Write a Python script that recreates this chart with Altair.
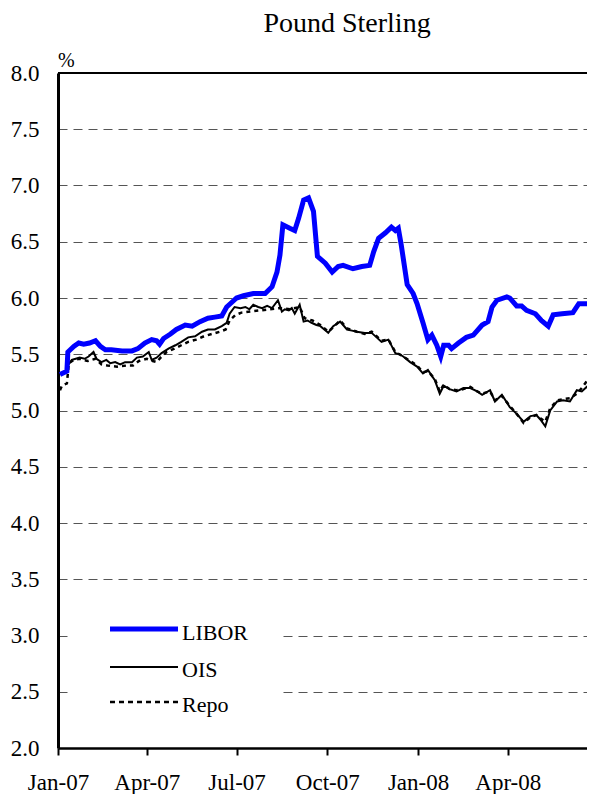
import altair as alt
import pandas as pd

# ---------------- data ----------------
base_date = "2007-01-01"

libor_day = [2, 9, 10, 16, 21, 26, 32, 38, 43, 48, 54, 65, 75, 81, 88, 95, 100, 103, 107, 114,
             120, 129, 136, 144, 152, 159, 166, 171, 176, 181, 188, 198, 210, 217, 222, 225, 228,
             235, 240, 244, 249, 254, 259, 263, 271, 278, 284, 289, 299, 308, 316, 320, 325, 332,
             338, 342, 345, 348, 354, 360, 364, 370, 375, 379, 384, 388, 391, 396, 399, 406, 414,
             421, 430, 436, 440, 445, 455, 458, 465, 470, 475, 484, 490, 497, 502, 511, 522, 528,
             536, 543]
libor_val = [5.32, 5.35, 5.52, 5.57, 5.60, 5.59, 5.60, 5.62, 5.57, 5.54, 5.54, 5.53, 5.53, 5.55,
             5.60, 5.63, 5.62, 5.59, 5.64, 5.68, 5.72, 5.76, 5.75, 5.79, 5.82, 5.83, 5.84, 5.92,
             5.96, 6.00, 6.02, 6.04, 6.04, 6.10, 6.23, 6.38, 6.65, 6.62, 6.60, 6.71, 6.87, 6.89,
             6.77, 6.37, 6.31, 6.23, 6.28, 6.29, 6.26, 6.28, 6.29, 6.41, 6.53, 6.58, 6.63, 6.60,
             6.62, 6.47, 6.12, 6.04, 5.95, 5.78, 5.63, 5.67, 5.58, 5.48, 5.58, 5.58, 5.55, 5.60,
             5.65, 5.67, 5.76, 5.79, 5.92, 5.98, 6.01, 6.00, 5.93, 5.93, 5.89, 5.86, 5.80, 5.75,
             5.85, 5.86, 5.87, 5.95, 5.95, 5.93]

ois_day = [8, 10, 14, 18, 22, 27, 31, 36, 39, 44, 49, 53, 58, 63, 68, 75, 80, 86, 92, 95, 100,
           105, 112, 119, 125, 132, 139, 146, 152, 159, 166, 171, 174, 179, 185, 190, 194, 198,
           203, 207, 212, 217, 223, 227, 230, 234, 237, 240, 245, 249, 253, 257, 262, 266, 270,
           274, 279, 286, 293, 298, 303, 311, 318, 323, 328, 335, 342, 346, 350, 357, 364, 370,
           375, 382, 387, 391, 397, 404, 411, 418, 425, 430, 438, 443, 450, 458, 465, 472, 479,
           485, 489, 494, 499, 506, 512, 519, 526, 531, 536, 540, 543]
ois_val = [5.36, 5.40, 5.45, 5.46, 5.47, 5.46, 5.48, 5.52, 5.46, 5.43, 5.45, 5.42, 5.43, 5.41,
           5.43, 5.43, 5.47, 5.48, 5.52, 5.45, 5.47, 5.51, 5.55, 5.58, 5.61, 5.65, 5.66, 5.70,
           5.72, 5.72, 5.75, 5.78, 5.86, 5.92, 5.91, 5.92, 5.90, 5.94, 5.92, 5.91, 5.93, 5.91,
           5.98, 5.88, 5.90, 5.89, 5.91, 5.86, 5.94, 5.79, 5.80, 5.78, 5.76, 5.75, 5.72, 5.69,
           5.75, 5.79, 5.72, 5.71, 5.70, 5.69, 5.69, 5.65, 5.61, 5.63, 5.51, 5.50, 5.48, 5.43,
           5.39, 5.33, 5.36, 5.27, 5.15, 5.22, 5.19, 5.17, 5.20, 5.20, 5.17, 5.14, 5.18, 5.08,
           5.14, 5.03, 4.97, 4.90, 4.95, 4.96, 4.92, 4.86, 5.00, 5.08, 5.09, 5.08, 5.18, 5.17,
           5.21, 5.18, 5.14]

repo_day = [2, 4, 9, 11, 16, 22, 30, 38, 44, 50, 60, 70, 76, 82, 90, 96, 100, 104, 110, 118,
            125, 132, 140, 148, 156, 164, 170, 174, 180, 186, 195, 205, 215, 225, 235, 245, 250,
            258, 266, 274, 279, 286, 293, 303, 311, 318, 328, 335, 342, 350, 357, 364, 370, 375,
            382, 387, 391, 397, 404, 411, 418, 425, 430, 438, 443, 450, 458, 465, 472, 479, 485,
            489, 494, 499, 506, 512, 519, 526, 531, 536, 540, 543]
repo_val = [5.18, 5.22, 5.24, 5.42, 5.45, 5.46, 5.44, 5.46, 5.41, 5.40, 5.39, 5.40, 5.40, 5.44,
            5.46, 5.44, 5.43, 5.47, 5.52, 5.55, 5.58, 5.61, 5.63, 5.66, 5.68, 5.70, 5.72, 5.80,
            5.85, 5.87, 5.88, 5.89, 5.90, 5.91, 5.90, 5.92, 5.82, 5.80, 5.76, 5.70, 5.74, 5.80,
            5.73, 5.70, 5.68, 5.70, 5.62, 5.63, 5.52, 5.48, 5.44, 5.40, 5.34, 5.35, 5.28, 5.17,
            5.23, 5.19, 5.18, 5.19, 5.21, 5.17, 5.15, 5.17, 5.09, 5.13, 5.04, 4.97, 4.89, 4.94,
            4.96, 4.93, 4.90, 5.02, 5.09, 5.10, 5.11, 5.15, 5.20, 5.26, 5.24, 5.20]

series_names = ["LIBOR", "OIS", "Repo"]
tick_dates = ["2007-01-01", "2007-04-01", "2007-07-01", "2007-10-01", "2008-01-01", "2008-04-01"]
x_domain = ["2007-01-01", "2008-06-20 07:00"]
y_ticks = [2.0, 2.5, 3.0, 3.5, 4.0, 4.5, 5.0, 5.5, 6.0, 6.5, 7.0, 7.5, 8.0]
title_text = "Pound Sterling"
unit_text = "%"

# ---------------- build tables ----------------
def make_df(days, vals):
    d = pd.to_datetime(base_date) + pd.to_timedelta(days, unit="D")
    return pd.DataFrame({"date": d, "value": vals})

df_libor = make_df(libor_day, libor_val)
df_ois = make_df(ois_day, ois_val)
df_repo = make_df(repo_day, repo_val)
one = pd.DataFrame({"k": [0]})

FONT = "Liberation Serif"

def dt(s):
    t = pd.Timestamp(s)
    return alt.DateTime(year=t.year, month=t.month, date=t.day, hours=t.hour)

x_enc = alt.X(
    "date:T",
    scale=alt.Scale(domain=[dt(s) for s in x_domain]),
    axis=alt.Axis(
        values=[dt(s) for s in tick_dates],
        format="%b-%y",
        title=None,
        grid=False,
        domainColor="black",
        domainWidth=2.5,
        tickColor="black",
        tickWidth=2,
        tickSize=7,
        labelFont=FONT,
        labelFontSize=23,
        labelColor="black",
        labelPadding=16,
        labelFlush=False,
        labelOverlap=False,
    ),
)
y_enc = alt.Y(
    "value:Q",
    scale=alt.Scale(domain=[2, 8], nice=False, zero=False),
    axis=alt.Axis(
        values=y_ticks,
        format=".1f",
        title=None,
        grid=True,
        gridDash=[9, 6],
        gridColor="#555555",
        gridWidth=1,
        ticks=False,
        domainColor="black",
        domainWidth=3,
        labelFont=FONT,
        labelFontSize=23,
        labelColor="black",
        labelPadding=19,
    ),
)

top_border = alt.Chart(one).mark_rule(color="black", strokeWidth=2).encode(y=alt.datum(8.0))

legend_bg = alt.Chart(one).mark_rect(color="white").encode(
    x=alt.value(14), x2=alt.value(222), y=alt.value(535), y2=alt.value(651)
)

ois_line = alt.Chart(df_ois).mark_line(color="black", strokeWidth=2, clip=True).encode(x=x_enc, y=y_enc)
repo_line = alt.Chart(df_repo).mark_line(
    color="black", strokeWidth=2.5, strokeDash=[4, 4], clip=True
).encode(x=x_enc, y=y_enc)
libor_line = alt.Chart(df_libor).mark_line(color="#0000FF", strokeWidth=5, clip=True).encode(
    x=x_enc, y=y_enc
)

leg_libor = alt.Chart(one).mark_rule(color="#0000FF", strokeWidth=5, strokeCap="butt").encode(
    x=alt.value(52), x2=alt.value(120), y=alt.value(556)
)
leg_ois = alt.Chart(one).mark_rule(color="black", strokeWidth=2).encode(
    x=alt.value(52), x2=alt.value(120), y=alt.value(594)
)
leg_repo = alt.Chart(one).mark_rule(color="black", strokeWidth=2.5, strokeDash=[5, 4]).encode(
    x=alt.value(52), x2=alt.value(120), y=alt.value(629)
)

def label(txt, x, y, size, align="left"):
    return alt.Chart(one).mark_text(
        font=FONT, fontSize=size, color="black", align=align, baseline="alphabetic"
    ).encode(x=alt.value(x), y=alt.value(y), text=alt.value(txt))

texts = [
    label(series_names[0], 124, 567, 22),
    label(series_names[1], 124, 604, 22),
    label(series_names[2], 124, 639, 22),
    label(title_text, 289, -41, 28, align="center"),
    label(unit_text, 0, -6, 20),
]

chart = alt.layer(
    top_border, legend_bg, ois_line, repo_line, libor_line, leg_libor, leg_ois, leg_repo, *texts
).properties(
    width=529,
    height=675,
    autosize=alt.AutoSizeParams(type="none"),
    padding={"left": 50, "top": 65, "right": 0, "bottom": 46},
).configure_view(stroke=None).configure(background="white")

chart.save("out.html", embed_options={"renderer": "svg", "actions": False})
